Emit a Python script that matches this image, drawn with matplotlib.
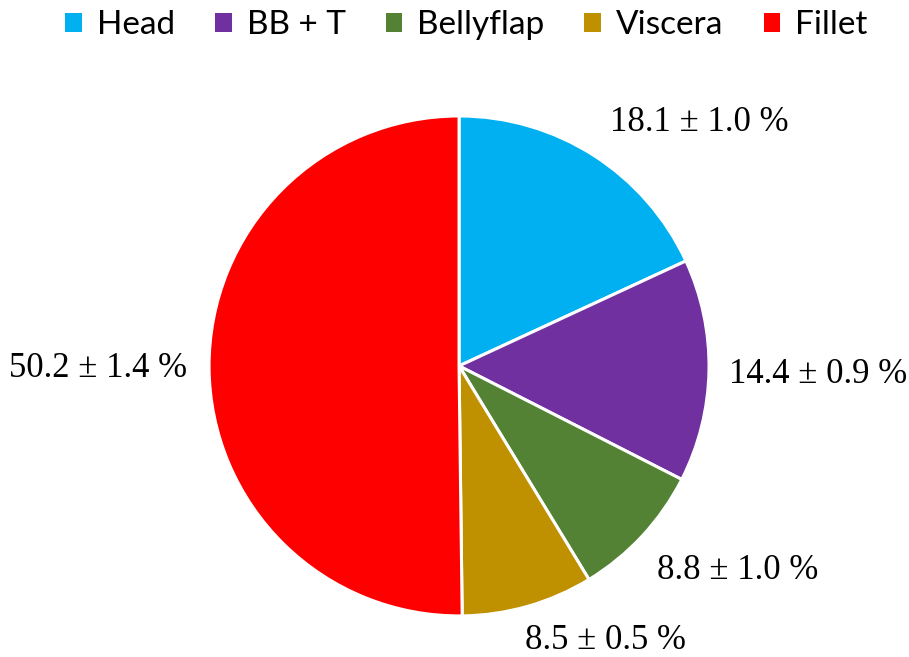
import matplotlib.pyplot as plt
from matplotlib.patches import Rectangle

categories = ["Head", "BB + T", "Bellyflap", "Viscera", "Fillet"]
values = [18.1, 14.4, 8.8, 8.5, 50.2]
errors = [1.0, 0.9, 1.0, 0.5, 1.4]
colors = ["#00B0F0", "#7030A0", "#548235", "#BF9000", "#FF0000"]
# label centre positions in pie-radius units
label_pos = [(0.96, 0.972), (1.436, -0.035), (1.116, -0.82), (0.584, -1.10), (-1.444, -0.01)]

fig = plt.figure(figsize=(9.09, 6.57), dpi=100)
ax = fig.add_axes([0.230, 0.0625, 0.55, 0.761])
ax.pie(values, colors=colors, startangle=90, counterclock=False, radius=1,
       wedgeprops=dict(edgecolor="white", linewidth=2.2))
ax.set_xlim(-1, 1)
ax.set_ylim(-1, 1)
ax.set_aspect("equal")
ax.axis("off")

for v, e, (x, y) in zip(values, errors, label_pos):
    ax.text(x, y, f"{v:.1f} \u00b1 {e:.1f} %", ha="center", va="center",
            fontsize=25, family="Liberation Serif", clip_on=False)

handles = [Rectangle((0, 0), 1, 1, facecolor=c, edgecolor="none") for c in colors]
fig.legend(handles, categories, loc="upper center", bbox_to_anchor=(0.513, 1.03),
           ncol=5, frameon=False, prop=dict(family="Lato", size=24),
           handlelength=0.5, handleheight=0.5, handletextpad=0.45, columnspacing=1.2)

fig.savefig("out.png", dpi=100)
